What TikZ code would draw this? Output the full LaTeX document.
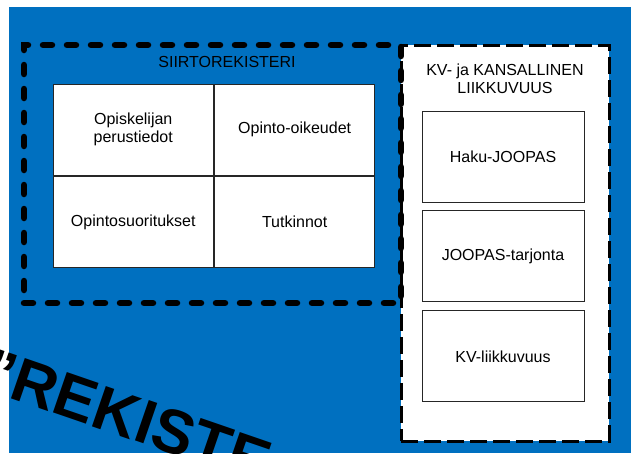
\documentclass[tikz,border=0pt]{standalone}
\usepackage{fontspec}
\setmainfont{Liberation Sans}
\usetikzlibrary{positioning}
\definecolor{regblue}{RGB}{0,112,192}

\begin{document}
\begin{tikzpicture}[x=1pt,y=-1pt,
    every node/.style={font=\fontsize{16}{18}\selectfont},
    cell/.style={draw=black!85, fill=white, line width=0.9pt, inner sep=0pt, align=center, minimum width=160.5pt, minimum height=91.5pt},
    kvcell/.style={cell, minimum width=162pt, minimum height=91pt},
    dotframe/.style={draw, line width=6.5pt, line cap=round, dash pattern=on 9pt off 15pt, inner sep=0pt},
    dashframe/.style={draw, fill=white, line width=3pt, dash pattern=on 17pt off 6pt, inner sep=0pt}]
    % page and blue background
    \clip (0,0) rectangle (631,453);
    \fill[white] (0,0) rectangle (631,453);
    \fill[regblue] (9,7) rectangle (631,453);
    % KV- ja kansallinen liikkuvuus
    \node[dashframe, minimum width=208pt, minimum height=396pt] (kv) at (505,243) {};
    \node[align=center] (kvtitle) at (505,79) {KV- ja KANSALLINEN\\LIIKKUVUUS};
    \node[kvcell] (haku) at (503,156.5) {Haku-JOOPAS};
    \node[kvcell, below=8pt of haku] (tarjonta) {JOOPAS-tarjonta};
    \node[kvcell, below=8pt of tarjonta] (kvliik) {KV-liikkuvuus};
    % siirtorekisteri
    \node[dotframe, minimum width=377pt, minimum height=258pt] (siirto) at (212.5,174) {};
    \node (siirtotitle) at (227,62) {SIIRTOREKISTERI};
    \node[cell] (perus) at (133.25,129.75) {Opiskelijan\\perustiedot};
    \node[cell, right=0pt of perus] (oikeudet) {Opinto-oikeudet};
    \node[cell, below=0pt of perus] (suoritukset) {Opintosuoritukset};
    \node[cell, right=0pt of suoritukset] (tutkinnot) {Tutkinnot};
    % leima
    \node[rotate=-19, anchor=base west, inner sep=0pt, font=\fontsize{62}{62}\selectfont\bfseries] (leima) at (-22,387) {”REKISTE};
\end{tikzpicture}
\end{document}
